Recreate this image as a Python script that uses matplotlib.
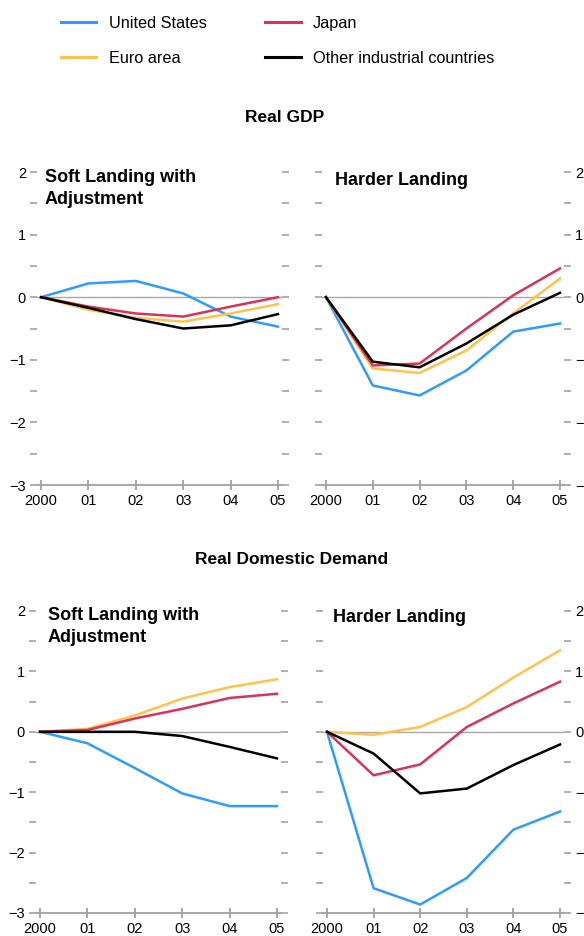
import matplotlib
matplotlib.use("Agg")
from matplotlib import pyplot as plt
from matplotlib.lines import Line2D
from matplotlib.ticker import MultipleLocator

plt.rcParams['font.family'] = ['Liberation Sans', 'DejaVu Sans']

years = [0, 1, 2, 3, 4, 5]
year_labels = ["2000", "01", "02", "03", "04", "05"]
countries = ["United States", "Euro area", "Japan", "Other industrial countries"]
colors = ["#2f9bff", "#ffc24d", "#d8345a", "#000000"]

# Real GDP, percent deviation from baseline
gdp_soft_us = [0, 0.22, 0.26, 0.06, -0.31, -0.47]
gdp_soft_euro = [0, -0.2, -0.33, -0.39, -0.26, -0.11]
gdp_soft_japan = [0, -0.15, -0.26, -0.31, -0.15, 0.0]
gdp_soft_other = [0, -0.17, -0.35, -0.5, -0.45, -0.27]

gdp_hard_us = [0, -1.41, -1.57, -1.17, -0.55, -0.42]
gdp_hard_euro = [0, -1.14, -1.21, -0.85, -0.26, 0.3]
gdp_hard_japan = [0, -1.09, -1.06, -0.5, 0.03, 0.46]
gdp_hard_other = [0, -1.03, -1.12, -0.74, -0.28, 0.07]

# Real domestic demand, percent deviation from baseline
dd_soft_us = [0, -0.19, -0.6, -1.02, -1.23, -1.23]
dd_soft_euro = [0, 0.05, 0.27, 0.55, 0.74, 0.87]
dd_soft_japan = [0, 0.03, 0.22, 0.38, 0.56, 0.63]
dd_soft_other = [0, 0.0, 0.0, -0.07, -0.25, -0.44]

dd_hard_us = [0, -2.59, -2.86, -2.42, -1.62, -1.32]
dd_hard_euro = [0, -0.05, 0.08, 0.41, 0.9, 1.35]
dd_hard_japan = [0, -0.72, -0.54, 0.08, 0.47, 0.83]
dd_hard_other = [0, -0.36, -1.02, -0.94, -0.55, -0.21]

W, H = 584, 936
fig = plt.figure(figsize=(W / 100, H / 100), dpi=100)


def rect(left, right, top, bottom):
    return [left / W, 1 - bottom / H, (right - left) / W, (bottom - top) / H]


def panel(box, series, labels_right):
    ax = fig.add_axes(rect(*box))
    ax.axhline(0, color="#a8a8a8", lw=1.0, zorder=1)
    order = [1, 2, 0, 3]
    for i in order:
        ax.plot(years, series[i], color=colors[i], lw=1.8, zorder=2 + i)
    ax.set_xlim(-0.085, 5.085)
    ax.set_ylim(-3, 2)
    for s in ["left", "right", "top"]:
        ax.spines[s].set_visible(False)
    ax.spines["bottom"].set_color("#a0a0a0")
    ax.spines["bottom"].set_linewidth(1.3)
    ax.set_xticks(years)
    ax.set_xticklabels(year_labels)
    ax.yaxis.set_major_locator(MultipleLocator(1))
    ax.yaxis.set_minor_locator(MultipleLocator(0.5))
    ax.tick_params(axis="x", direction="inout", length=7, width=1.1,
                   color="#909090", labelsize=10.5, pad=3)
    ax.tick_params(axis="y", which="both", direction="out", length=5,
                   width=1.1, color="#9a9a9a", left=True, right=True,
                   labelleft=not labels_right, labelright=labels_right,
                   labelsize=10.5, pad=3)
    ticks = [2, 1, 0, -1, -2, -3]
    ax.set_yticks(ticks)
    ax.set_yticklabels([str(t).replace("-", "\u2212") for t in ticks])
    return ax


panel((37, 282, 172, 485),
      [gdp_soft_us, gdp_soft_euro, gdp_soft_japan, gdp_soft_other], False)
panel((322, 564, 172, 485),
      [gdp_hard_us, gdp_hard_euro, gdp_hard_japan, gdp_hard_other], True)
panel((36, 281, 611, 913),
      [dd_soft_us, dd_soft_euro, dd_soft_japan, dd_soft_other], False)
panel((323, 564, 611, 913),
      [dd_hard_us, dd_hard_euro, dd_hard_japan, dd_hard_other], True)


# panel and section titles
def ftext(x, y, s, **kw):
    fig.text(x / W, 1 - y / H, s, **kw)


ftext(45, 169, "Soft Landing with\nAdjustment", fontsize=13,
      fontweight="bold", va="top", ha="left", linespacing=1.35)
ftext(335, 172, "Harder Landing", fontsize=13, fontweight="bold",
      va="top", ha="left")
ftext(48, 607, "Soft Landing with\nAdjustment", fontsize=13,
      fontweight="bold", va="top", ha="left", linespacing=1.35)
ftext(333, 609, "Harder Landing", fontsize=13, fontweight="bold",
      va="top", ha="left")
ftext(285, 117, "Real GDP", fontsize=12.5, fontweight="bold",
      va="center", ha="center")
ftext(292, 560, "Real Domestic Demand", fontsize=12.5, fontweight="bold",
      va="center", ha="center")

handles = [Line2D([], [], color=c, lw=2.2) for c in colors]
fig.legend(handles, countries, ncol=2, loc="upper left",
           bbox_to_anchor=(46 / W, 1 - 1 / H), frameon=False, fontsize=11.7,
           handlelength=2.2, handletextpad=0.75, labelspacing=1.25,
           columnspacing=3.6)

fig.savefig("out.png", dpi=100)
